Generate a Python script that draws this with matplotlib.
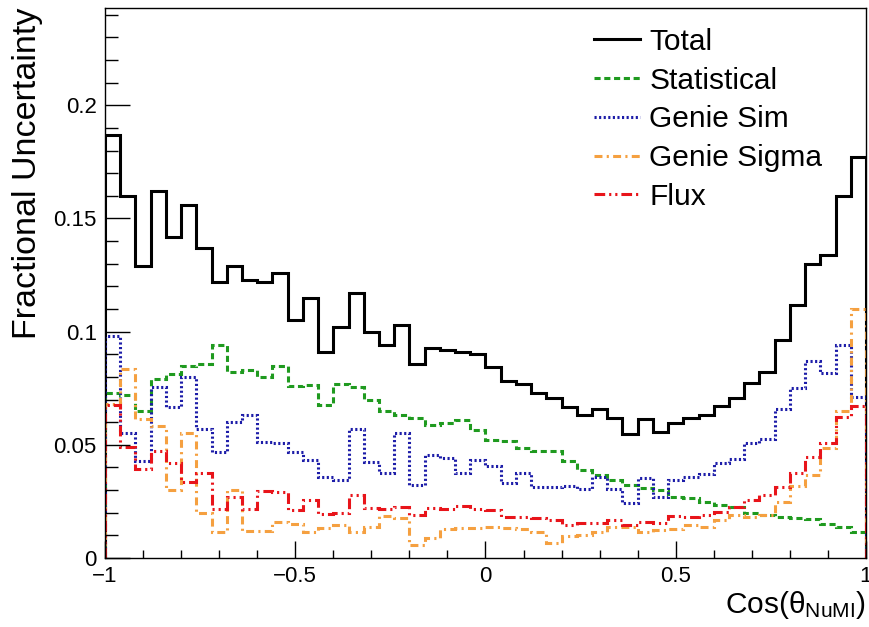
import matplotlib
matplotlib.use("Agg")
import matplotlib.pyplot as plt
import numpy as np
from matplotlib.ticker import MultipleLocator

plt.rcParams['font.family'] = ['Liberation Sans', 'DejaVu Sans']
plt.rcParams['mathtext.fontset'] = 'custom'
plt.rcParams['mathtext.rm'] = 'Liberation Sans'
plt.rcParams['mathtext.default'] = 'regular'

# 50 bins in cos(theta_NuMI) from -1 to 1
edges = np.linspace(-1, 1, 51)

total = [0.187, 0.160, 0.129, 0.162, 0.142, 0.156, 0.137, 0.122, 0.129, 0.123,
         0.122, 0.126, 0.105, 0.115, 0.091, 0.102, 0.117, 0.100, 0.094, 0.103,
         0.0855, 0.093, 0.092, 0.091, 0.090, 0.0845, 0.078, 0.0767, 0.0727, 0.0708,
         0.0668, 0.0631, 0.0658, 0.0617, 0.0546, 0.0615, 0.0558, 0.0595, 0.0620, 0.0630,
         0.0671, 0.0709, 0.0771, 0.0823, 0.0962, 0.112, 0.130, 0.134, 0.160, 0.177]

statistical = [0.073, 0.072, 0.065, 0.079, 0.0815, 0.085, 0.0857, 0.094, 0.082, 0.083,
               0.080, 0.085, 0.076, 0.0764, 0.0675, 0.0768, 0.0757, 0.0698, 0.065, 0.0631,
               0.0617, 0.0587, 0.0597, 0.0609, 0.0565, 0.0521, 0.0518, 0.0484, 0.0474, 0.0472,
               0.0428, 0.0389, 0.0366, 0.0344, 0.0322, 0.0310, 0.0302, 0.0271, 0.0263, 0.0249,
               0.0234, 0.0227, 0.0200, 0.0190, 0.0182, 0.0175, 0.0171, 0.0150, 0.0135, 0.0113]

genie_sim = [0.098, 0.0551, 0.043, 0.0757, 0.0665, 0.080, 0.0572, 0.0469, 0.0602, 0.0631,
             0.0513, 0.0509, 0.0469, 0.0433, 0.0359, 0.0344, 0.0572, 0.0425, 0.0374, 0.0551,
             0.0322, 0.0455, 0.0440, 0.0374, 0.0433, 0.0406, 0.0333, 0.0374, 0.0312, 0.0312,
             0.0318, 0.0303, 0.0356, 0.0303, 0.0241, 0.0352, 0.0268, 0.0344, 0.0359, 0.0371,
             0.0418, 0.0436, 0.0506, 0.0524, 0.0657, 0.0749, 0.0871, 0.0819, 0.094, 0.0712]

genie_sigma = [0.068, 0.0834, 0.0612, 0.0583, 0.030, 0.0553, 0.020, 0.0116, 0.030, 0.0121,
               0.0121, 0.016, 0.015, 0.0116, 0.0131, 0.0146, 0.0116, 0.0138, 0.0185, 0.0175,
               0.0057, 0.0087, 0.0127, 0.0131, 0.0131, 0.0135, 0.0131, 0.0128, 0.0116, 0.0068,
               0.0097, 0.0102, 0.0116, 0.0138, 0.0138, 0.0115, 0.0124, 0.0127, 0.0146, 0.0135,
               0.0168, 0.0190, 0.0182, 0.0190, 0.0249, 0.0318, 0.0366, 0.0484, 0.065, 0.110]

flux = [0.0675, 0.0489, 0.0392, 0.0474, 0.0421, 0.0337, 0.0374, 0.0215, 0.0271, 0.0215,
        0.0297, 0.0293, 0.0214, 0.0256, 0.0194, 0.0200, 0.0278, 0.0219, 0.0216, 0.0227,
        0.0190, 0.0219, 0.0216, 0.0228, 0.0215, 0.0212, 0.0182, 0.0180, 0.0175, 0.0168,
        0.0146, 0.0156, 0.0153, 0.0168, 0.0146, 0.0160, 0.0156, 0.0185, 0.0182, 0.0190,
        0.0204, 0.0227, 0.0256, 0.0278, 0.0312, 0.0374, 0.0445, 0.0509, 0.0624, 0.0671]

yticks = [0, 0.05, 0.1, 0.15, 0.2]
ytick_labels = ["0", "0.05", "0.1", "0.15", "0.2"]
xticks = [-1, -0.5, 0, 0.5, 1]
xtick_labels = ["\u22121", "\u22120.5", "0", "0.5", "1"]

fig = plt.figure(figsize=(8.7, 6.27), dpi=100)
ax = fig.add_axes([105 / 870, 69 / 627, 761 / 870, 550 / 627])

lw = 2.2
ax.stairs(total, edges, color="black", lw=lw, label="Total")
ax.stairs(statistical, edges, color="#1f9a1f", lw=lw, ls=(0, (2, 1.2)), label="Statistical")
ax.stairs(genie_sim, edges, color="#1c1ca8", lw=lw, ls=(0, (0.7, 0.8)), label="Genie Sim")
ax.stairs(genie_sigma, edges, color="#f5a040", lw=lw, ls=(0, (2.6, 1.4, 0.7, 1.4)), label="Genie Sigma")
ax.stairs(flux, edges, color="#e8141a", lw=lw, ls=(0, (3.5, 1.3, 0.7, 1.3, 0.7, 1.3)), label="Flux")

ax.set_xlim(-1, 1)
ax.set_ylim(0, 0.243)

ax.set_xticks(xticks)
ax.set_xticklabels(xtick_labels)
ax.set_yticks(yticks)
ax.set_yticklabels(ytick_labels)
ax.xaxis.set_minor_locator(MultipleLocator(0.1))
ax.yaxis.set_minor_locator(MultipleLocator(0.01))

ax.tick_params(axis="x", which="major", direction="in", length=12, width=1, labelsize=16, pad=6, top=False)
ax.tick_params(axis="x", which="minor", direction="in", length=6, width=1, top=False)
ax.tick_params(axis="y", which="major", direction="in", length=18, width=1, labelsize=16, pad=6, right=False)
ax.tick_params(axis="y", which="minor", direction="in", length=9, width=1, right=False)
for s in ax.spines.values():
    s.set_linewidth(1)

fig.text(28 / 870, 1 - 8 / 627, "Fractional Uncertainty", rotation=90,
         ha="center", va="top", fontsize=24.5)
fig.text(866 / 870, 1 - 605 / 627, "Cos(θ$_{NuMI}$)", ha="right", va="center", fontsize=21.5)

leg = ax.legend(loc="upper left", bbox_to_anchor=(579 / 870, 1 - 13 / 627),
                bbox_transform=fig.transFigure, frameon=False, fontsize=21.5,
                handlelength=1.55, handletextpad=0.3, labelspacing=0.36, borderpad=0)
for h in leg.get_lines():
    h.set_linewidth(2.2)

fig.savefig("out.png", dpi=100)
